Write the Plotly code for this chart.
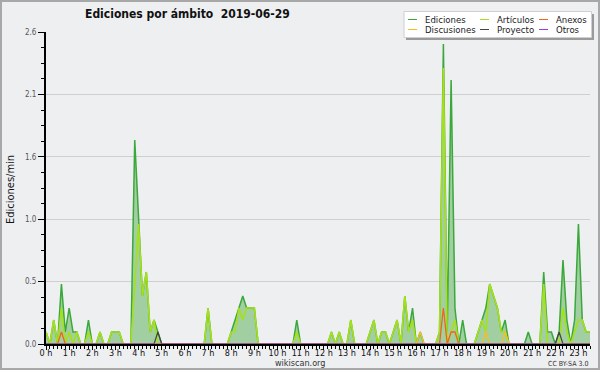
import plotly.graph_objects as go

# ---------------- data (10-minute bins, edits per minute) ----------------
hour_labels = [f"{h} h" for h in range(24)]
y_tickvals = [0, 0.52, 1.04, 1.56, 2.08, 2.6]
y_ticktext = ["0.0", "0.5", "1.0", "1.6", "2.1", "2.6"]

ediciones = [
    0.1, 0, 0.2, 0, 0.5, 0.1,   0.3, 0.1, 0.1, 0, 0, 0.2,        # 0h-1h
    0, 0, 0.1, 0, 0, 0.1,       0.1, 0.1, 0, 0, 0, 1.7,          # 2h-3h
    1.0, 0.4, 0.6, 0.1, 0.2, 0.1, 0, 0, 0, 0, 0, 0,              # 4h-5h
    0, 0, 0, 0, 0, 0,           0.3, 0, 0, 0, 0, 0,              # 6h-7h
    0.1, 0.2, 0.3, 0.4, 0.3, 0.3, 0.3, 0, 0, 0, 0, 0,            # 8h-9h
    0, 0, 0, 0, 0, 0.2,         0, 0, 0, 0, 0, 0,                # 10h-11h
    0, 0, 0.1, 0, 0.1, 0,       0, 0.2, 0, 0, 0, 0,              # 12h-13h
    0.1, 0.2, 0, 0.1, 0.1, 0,   0.1, 0.2, 0, 0.4, 0.1, 0.3,      # 14h-15h
    0, 0.1, 0, 0, 0, 0,         0.1, 2.5, 0.1, 2.2, 0.3, 0,      # 16h-17h
    0.2, 0, 0, 0, 0.1, 0.2,     0.3, 0.5, 0.4, 0.3, 0.1, 0.2,    # 18h-19h
    0, 0, 0, 0, 0, 0.1,         0, 0, 0, 0.6, 0.1, 0.1,          # 20h-21h
    0, 0.1, 0.7, 0.2, 0, 0.2,   1.0, 0.2, 0.1, 0.1, 0.1, 0.1,    # 22h-23h
]
articulos = [
    0.1, 0, 0.2, 0, 0.3, 0,     0.1, 0, 0.1, 0, 0, 0.1,
    0, 0, 0.1, 0, 0, 0.1,       0.1, 0.1, 0, 0, 0, 0.5,
    1.0, 0.4, 0.6, 0.1, 0.2, 0, 0, 0, 0, 0, 0, 0,
    0, 0, 0, 0, 0, 0,           0.3, 0, 0, 0, 0, 0,
    0.1, 0.1, 0.3, 0.2, 0.3, 0.3, 0.3, 0, 0, 0, 0, 0,
    0, 0, 0, 0, 0, 0.1,         0, 0, 0, 0, 0, 0,
    0, 0, 0.1, 0, 0.1, 0,       0, 0.2, 0, 0, 0, 0,
    0.1, 0.2, 0, 0.1, 0.1, 0,   0.1, 0.2, 0, 0.4, 0.1, 0.2,
    0, 0, 0, 0, 0, 0,           0.1, 2.3, 0, 0.1, 0.2, 0,
    0, 0, 0, 0, 0.1, 0.2,       0.1, 0.5, 0.4, 0.3, 0.1, 0.1,
    0, 0, 0, 0, 0, 0,           0, 0, 0, 0.5, 0, 0,
    0, 0, 0.3, 0.1, 0, 0.1,     0.2, 0.2, 0.1, 0.1, 0.1, 0.1,
]
anexos = [
    0, 0, 0, 0, 0.1, 0,         0, 0, 0, 0, 0, 0,
    0, 0, 0, 0, 0, 0,           0, 0, 0, 0, 0, 0,
    0, 0, 0, 0, 0, 0,           0, 0, 0, 0, 0, 0,
    0, 0, 0, 0, 0, 0,           0, 0, 0, 0, 0, 0,
    0, 0, 0, 0, 0, 0,           0, 0, 0, 0, 0, 0,
    0, 0, 0, 0, 0, 0,           0, 0, 0, 0, 0, 0,
    0, 0, 0, 0, 0, 0,           0, 0, 0, 0, 0, 0,
    0, 0, 0, 0, 0, 0,           0, 0, 0, 0, 0, 0,
    0, 0, 0, 0, 0, 0,           0, 0.3, 0, 0.1, 0.1, 0,
    0, 0, 0, 0, 0, 0,           0, 0, 0, 0, 0, 0,
    0, 0, 0, 0, 0, 0,           0, 0, 0, 0, 0, 0,
    0, 0, 0, 0, 0, 0,           0, 0, 0, 0, 0, 0,
]
discusiones = [
    0, 0, 0, 0, 0, 0,           0, 0, 0, 0, 0, 0,
    0, 0, 0, 0, 0, 0,           0, 0, 0, 0, 0, 0,
    0, 0, 0, 0, 0, 0,           0, 0, 0, 0, 0, 0,
    0, 0, 0, 0, 0, 0,           0, 0, 0, 0, 0, 0,
    0, 0, 0, 0, 0, 0,           0, 0, 0, 0, 0, 0,
    0, 0, 0, 0, 0, 0,           0, 0, 0, 0, 0, 0,
    0, 0, 0, 0, 0, 0,           0, 0, 0, 0, 0, 0,
    0, 0, 0, 0, 0, 0,           0, 0, 0, 0, 0, 0,
    0, 0.1, 0, 0, 0, 0,         0, 0, 0, 0, 0, 0,
    0, 0, 0, 0, 0, 0,           0.1, 0, 0, 0, 0, 0.1,
    0, 0, 0, 0, 0, 0,           0, 0, 0, 0, 0, 0,
    0, 0, 0, 0, 0, 0,           0, 0, 0, 0, 0, 0,
]
proyecto = [
    0, 0, 0, 0, 0, 0,           0, 0, 0, 0, 0, 0,
    0, 0, 0, 0, 0, 0,           0, 0, 0, 0, 0, 0,
    0, 0, 0, 0, 0, 0.1,         0, 0, 0, 0, 0, 0,
    0, 0, 0, 0, 0, 0,           0, 0, 0, 0, 0, 0,
    0, 0, 0, 0, 0, 0,           0, 0, 0, 0, 0, 0,
    0, 0, 0, 0, 0, 0,           0, 0, 0, 0, 0, 0,
    0, 0, 0, 0, 0, 0,           0, 0, 0, 0, 0, 0,
    0, 0, 0, 0, 0, 0,           0, 0, 0, 0, 0, 0,
    0, 0, 0, 0, 0, 0,           0, 0, 0, 0, 0, 0,
    0, 0, 0, 0, 0, 0,           0, 0, 0, 0, 0, 0,
    0, 0, 0, 0, 0, 0,           0, 0, 0, 0, 0, 0,
    0, 0.1, 0, 0, 0, 0,         0, 0, 0, 0, 0, 0,
]
otros = [0] * 144

bin_hours = [i / 6 for i in range(len(ediciones))]

# ---------------- styling ----------------
W, H = 600, 370
ML, MR, MT, MB = 46, 10, 32, 26
PW, PH = W - ML - MR, H - MT - MB
BG = "#eeeff1"
FONT = "DejaVu Sans Condensed, DejaVu Sans, sans-serif"

C_ED = "#3aa83a"
C_FILL = "#a2cfa2"
C_ART = "#a6e01a"
C_ANX = "#f0641e"
C_DIS = "#f2c024"
C_PRO = "#444444"
C_OTR = "#9040e0"


def px(x):
    return (x - ML) / PW


def py(y):
    return (H - MB - y) / PH


fig = go.Figure()
fig.add_trace(go.Scatter(x=bin_hours, y=ediciones, name="Ediciones", mode="lines",
                         line=dict(color=C_ED, width=1.5), fill="tozeroy",
                         fillcolor=C_FILL, showlegend=False))
series = [("Artículos", articulos, C_ART, 1.6), ("Anexos", anexos, C_ANX, 1.3),
          ("Discusiones", discusiones, C_DIS, 1.3), ("Proyecto", proyecto, C_PRO, 1.2),
          ("Otros", otros, C_OTR, 1.2)]
for name, vals, col, lw in series:
    fig.add_trace(go.Scatter(x=bin_hours, y=vals, name=name, mode="lines",
                             line=dict(color=col, width=lw), showlegend=False))

shapes = []
annotations = []

# outer frame
shapes.append(dict(type="rect", xref="paper", yref="paper", x0=px(1), x1=px(599),
                   y0=py(369), y1=py(1), line=dict(color="#a8a8a8", width=2),
                   fillcolor="rgba(0,0,0,0)", layer="above"))

# legend box with shadow
shapes.append(dict(type="rect", xref="paper", yref="paper", x0=px(406), x1=px(594),
                   y0=py(40), y1=py(14), line=dict(width=0), fillcolor="#9a9a9a", layer="above"))
shapes.append(dict(type="rect", xref="paper", yref="paper", x0=px(404), x1=px(591.5),
                   y0=py(37.5), y1=py(11.5), line=dict(color="#cfcfcf", width=1),
                   fillcolor="#ffffff", layer="above"))
legend_items = [("Ediciones", C_ED, 408, 19.5), ("Artículos", C_ART, 480, 19.5),
                ("Anexos", C_ANX, 539, 19.5), ("Discusiones", C_DIS, 408, 29.5),
                ("Proyecto", C_PRO, 480, 29.5), ("Otros", C_OTR, 539, 29.5)]
for name, col, x0, yy in legend_items:
    shapes.append(dict(type="line", xref="paper", yref="paper", x0=px(x0), x1=px(x0 + 9),
                       y0=py(yy), y1=py(yy), line=dict(color=col, width=1), layer="above"))
    annotations.append(dict(text=name, xref="paper", yref="paper", x=px(x0 + 15), y=py(yy),
                            xanchor="left", yanchor="middle", showarrow=False,
                            font=dict(family=FONT, size=9.5, color="#222222")))

annotations.append(dict(text="Ediciones/min", xref="paper", yref="paper", x=px(10), y=py(190),
                        textangle=-90, xanchor="center", yanchor="middle", showarrow=False,
                        font=dict(family=FONT, size=11, color="#111111")))
annotations.append(dict(text="wikiscan.org", xref="paper", yref="paper", x=px(300), y=py(363),
                        xanchor="center", yanchor="middle", showarrow=False,
                        font=dict(family=FONT, size=9, color="#333333")))
annotations.append(dict(text="CC BY-SA 3.0", xref="paper", yref="paper", x=px(590), y=py(363.5),
                        xanchor="right", yanchor="middle", showarrow=False,
                        font=dict(family=FONT, size=7, color="#333333")))

fig.update_layout(
    width=W, height=H, margin=dict(l=ML, r=MR, t=MT, b=MB),
    paper_bgcolor=BG, plot_bgcolor=BG,
    title=dict(text="<b>Ediciones por ámbito  2019-06-29</b>", x=85 / W, xanchor="left",
               y=1 - 14 / H, yanchor="middle",
               font=dict(family=FONT, size=12, color="#111111")),
    showlegend=False, shapes=shapes, annotations=annotations,
)
fig.update_xaxes(range=[0, 23.5], tickmode="array", tickvals=list(range(24)), ticktext=hour_labels,
                 ticks="outside", ticklen=4, tickcolor="#000000", tickwidth=1,
                 minor=dict(dtick=1 / 6, tick0=0, ticks="outside", ticklen=3, tickcolor="#000000",
                            showgrid=False),
                 showline=True, linecolor="#000000", linewidth=2, showgrid=False, zeroline=False,
                 ticklabelstandoff=-5,
                 tickfont=dict(family=FONT, size=9, color="#111111"), fixedrange=True)
fig.update_yaxes(range=[0, 2.6], tickmode="array", tickvals=y_tickvals, ticktext=y_ticktext,
                 ticks="outside", ticklen=6, tickcolor="#000000", tickwidth=1,
                 minor=dict(dtick=0.13, tick0=0, ticks="outside", ticklen=3, tickcolor="#000000",
                            showgrid=False),
                 showline=True, linecolor="#000000", linewidth=2, showgrid=True,
                 gridcolor="#cfcfcf", gridwidth=1, zeroline=False,
                 tickfont=dict(family=FONT, size=8, color="#555555"), fixedrange=True)

fig.write_html("out.html", post_script="document.body.style.margin='0';",
               config={"displayModeBar": False})
